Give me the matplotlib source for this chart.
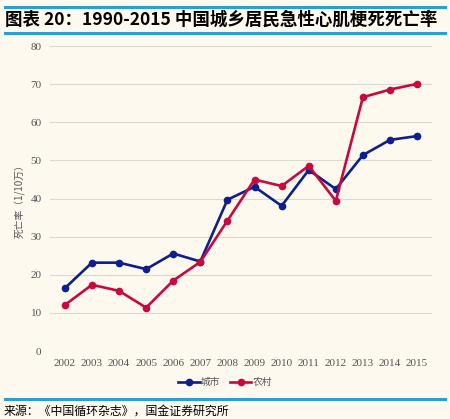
import matplotlib.pyplot as plt
from matplotlib.lines import Line2D

years = [str(y) for y in range(2002, 2016)]
urban = [16.5, 23.2, 23.2, 21.5, 25.6, 23.5, 39.7, 43.1, 38.1, 47.5, 42.5, 51.4, 55.4, 56.4]
rural = [12.1, 17.4, 15.8, 11.4, 18.5, 23.4, 34.2, 45.0, 43.3, 48.6, 39.4, 66.6, 68.6, 70.1]
labels = ['城市', '农村']

bg = '#fdf9ef'
c_urban = '#0d1f8c'
c_rural = '#c8093f'
c_rule = '#2a9fd3'

cjk = ['Noto Sans CJK SC', 'DejaVu Sans']
serif = ['Liberation Serif', 'Noto Sans CJK SC']

fig = plt.figure(figsize=(4.5, 4.19), dpi=100, facecolor=bg)
ax = fig.add_axes([0.111, 0.162, 0.849, 0.728], facecolor=bg)

x = list(range(len(years)))
ax.plot(x, urban, color=c_urban, lw=1.9, marker='o', ms=4.5, label=labels[0])
ax.plot(x, rural, color=c_rural, lw=1.9, marker='o', ms=4.5, label=labels[1])

ax.set_xlim(-0.55, 13.55)
ax.set_ylim(0, 80)
ax.set_yticks(range(0, 81, 10))
ax.set_xticks(x)
ax.set_xticklabels(years)
ax.grid(axis='y', color='#dcd9d2', lw=0.8)
ax.set_axisbelow(True)
for s in ax.spines.values():
    s.set_visible(False)
ax.tick_params(length=0, labelsize=8, labelcolor='#555555', pad=6)
for t in ax.get_xticklabels() + ax.get_yticklabels():
    t.set_family(serif)
ax.set_ylabel('死亡率（1/10万）', family=cjk, fontsize=7, color='#555555', labelpad=4)

handles = [Line2D([], [], color=c_urban, lw=1.9, marker='o', ms=4.5),
           Line2D([], [], color=c_rural, lw=1.9, marker='o', ms=4.5)]
leg = fig.legend(handles, labels, loc='center', bbox_to_anchor=(0.5, 0.088), ncol=2,
                 frameon=False, prop={'family': cjk, 'size': 7}, handlelength=2.2,
                 handletextpad=0.1, columnspacing=1.0)
for t in leg.get_texts():
    t.set_color('#555555')

# title and rules
fig.add_artist(Line2D([0.011, 0.989], [0.983, 0.983], color=c_rule, lw=2.2))
fig.add_artist(Line2D([0.011, 0.989], [0.921, 0.921], color=c_rule, lw=2.2))
fig.add_artist(Line2D([0.011, 0.989], [0.048, 0.048], color=c_rule, lw=2.2))
fig.text(0.012, 0.952, '图表 20：1990-2015 中国城乡居民急性心肌梗死死亡率', family=cjk,
         fontsize=12.6, fontweight='bold', style='italic', va='center', ha='left')
fig.text(0.008, 0.018, '来源：《中国循环杂志》，国金证券研究所', family=cjk,
         fontsize=8.6, va='center', ha='left')

fig.savefig('out.png', dpi=100, facecolor=bg)
